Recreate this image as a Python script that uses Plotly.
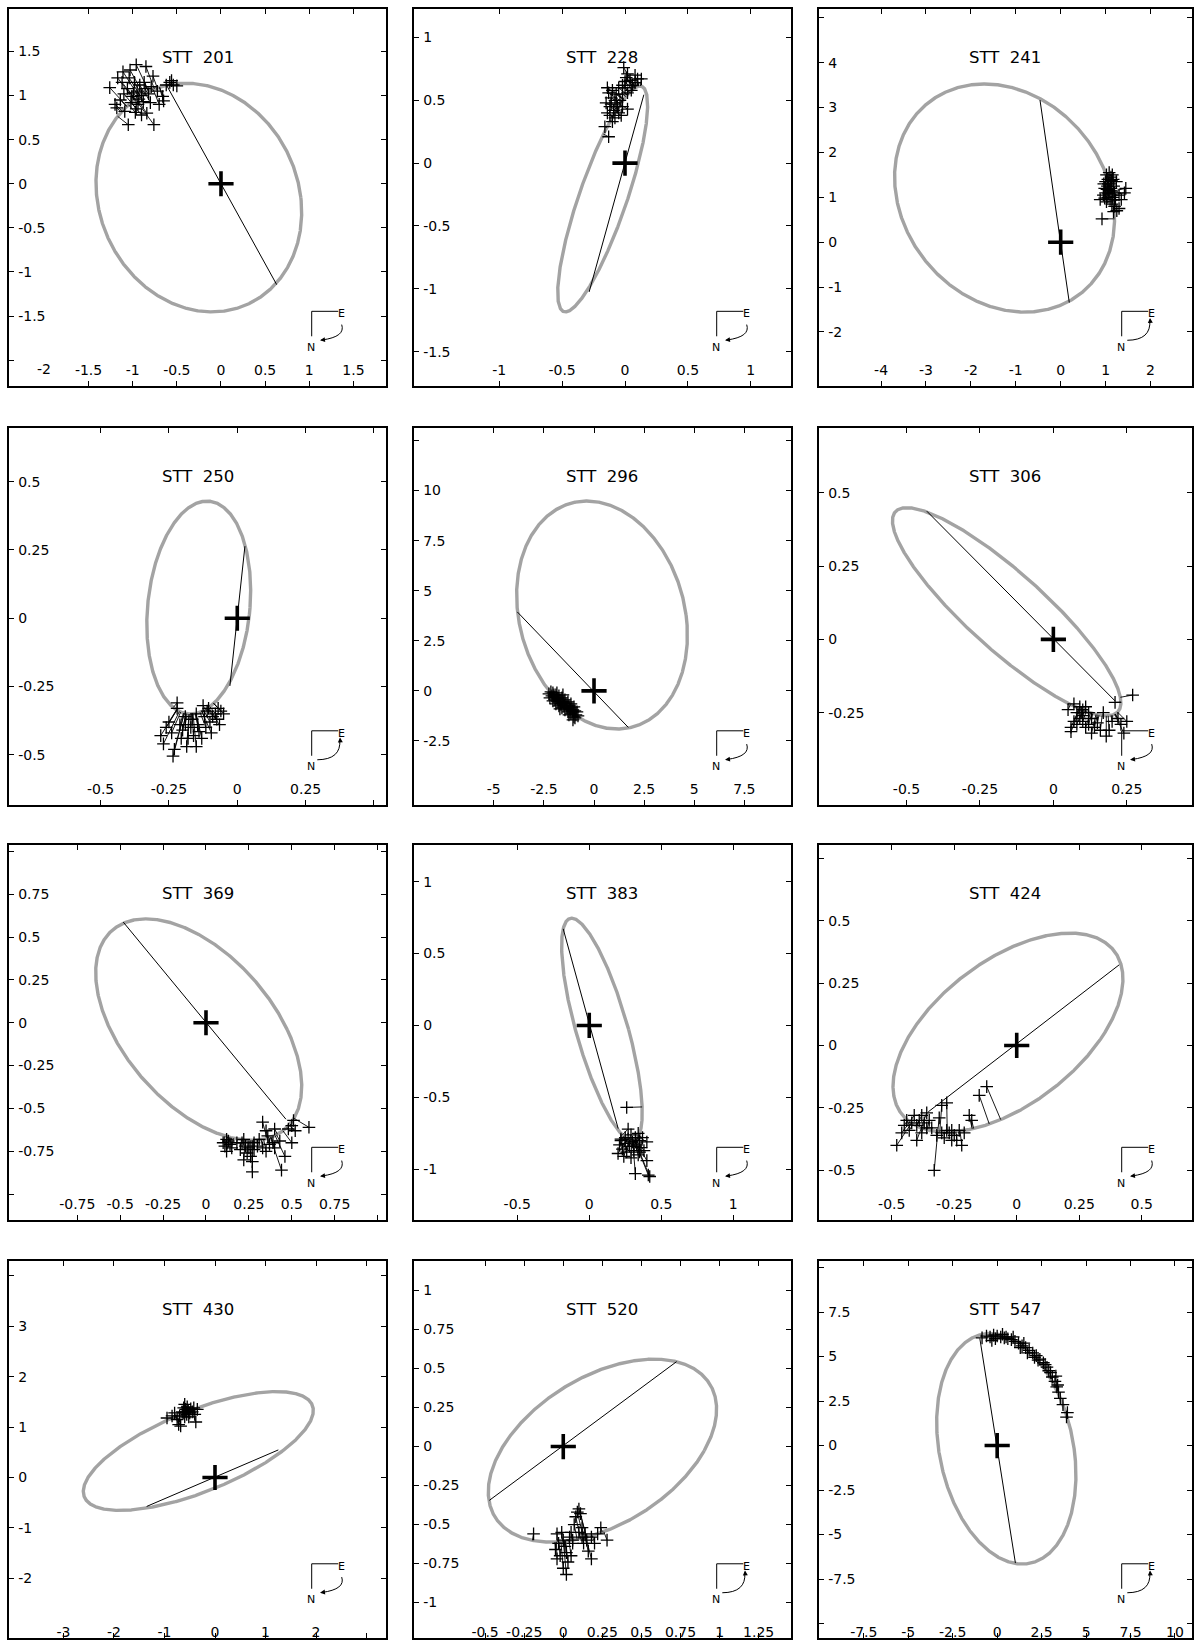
import numpy as np
import plotly.graph_objects as go

W, H = 1194, 1640

# ---------------- data ----------------
titles = ["STT  201", "STT  228", "STT  241", "STT  250", "STT  296", "STT  306",
          "STT  369", "STT  383", "STT  424", "STT  430", "STT  520", "STT  547"]

# apparent orbit extremes (data units, arcsec)
orbit_left = [-1.416, -0.535, -3.70, -0.331, -3.86, -0.548, -0.643, -0.192, -0.495, -2.608, -0.480, -3.404]
orbit_right = [0.914, 0.180, 1.20, 0.049, 4.66, 0.230, 0.558, 0.368, 0.425, 1.947, 0.981, 4.431]
orbit_top_y = [1.140, 0.614, 3.526, 0.429, 9.476, 0.449, 0.606, 0.746, 0.450, 1.703, 0.560, 6.30]
orbit_top_x = [-0.40, 0.119, -1.70, -0.111, -0.35, -0.499, -0.35, -0.122, 0.213, 1.221, 0.58, -0.376]
orbit_bottom_y = [-1.453, -1.184, -1.559, -0.351, -1.910, -0.261, -0.686, -0.80, -0.347, -0.653, -0.612, -6.657]

# line of nodes end points
node_x1 = [-0.615, 0.150, -0.461, 0.028, -3.825, -0.431, -0.482, -0.181, 0.410, -1.353, 0.725, -0.976]
node_y1 = [1.115, 0.545, 3.167, 0.264, 3.94, 0.437, 0.587, 0.672, 0.323, -0.574, 0.544, 6.018]
node_x2 = [0.631, -0.285, 0.192, -0.027, 1.711, 0.210, 0.466, 0.201, -0.354, 1.254, -0.473, 1.026]
node_y2 = [-1.144, -1.025, -1.345, -0.248, -1.826, -0.210, -0.563, -0.717, -0.266, 0.547, -0.345, -6.601]

# sense of motion shown in the compass ("N": arrow ends at N, "E": arrow ends at E)
motion = ["N", "N", "E", "E", "N", "N", "N", "N", "N", "N", "E", "E"]

obs_201 = [(-1.26, 1.09), (-1.17, 1.20), (-1.11, 1.27), (-1.03, 1.29), (-0.96, 1.35), (-0.85, 1.33),
           (-0.77, 1.22), (-0.79, 1.10), (-0.66, 0.99), (-0.65, 0.94), (-0.76, 0.67), (-1.05, 0.67),
           (-1.18, 0.86), (-1.09, 0.82), (-0.97, 0.81), (-0.84, 0.80), (-1.14, 0.95), (-1.01, 0.99),
           (-0.95, 1.05), (-0.90, 1.00), (-0.88, 0.93), (-0.92, 1.12), (-0.98, 1.15), (-1.06, 1.08),
           (-1.10, 1.02), (-0.86, 1.08), (-0.82, 1.02), (-0.80, 0.92), (-0.94, 0.90), (-1.02, 0.92),
           (-0.99, 1.03), (-0.93, 0.96), (-0.87, 1.15), (-1.12, 1.15), (-0.72, 1.05), (-0.70, 0.90),
           (-0.58, 1.15), (-0.54, 1.12), (-0.50, 1.11), (-0.56, 1.17), (-0.62, 1.12), (-1.20, 0.90),
           (-0.96, 0.85), (-0.90, 0.78), (-1.04, 1.20)]
obs_228 = [(-0.13, 0.21), (-0.16, 0.29), (-0.10, 0.33), (-0.08, 0.36), (-0.14, 0.40), (-0.12, 0.45),
           (-0.15, 0.48), (-0.11, 0.52), (-0.13, 0.56), (-0.10, 0.58), (-0.08, 0.50), (-0.06, 0.45),
           (-0.05, 0.40), (-0.03, 0.38), (-0.07, 0.55), (-0.04, 0.50), (-0.02, 0.45), (0.02, 0.43),
           (-0.09, 0.42), (-0.12, 0.38), (-0.05, 0.60), (-0.02, 0.62), (0.00, 0.65), (0.01, 0.68),
           (-0.01, 0.76), (0.02, 0.71), (0.04, 0.66), (0.06, 0.62), (0.08, 0.64), (0.10, 0.67),
           (0.08, 0.70), (0.13, 0.67), (0.05, 0.58), (0.02, 0.56), (-0.02, 0.55), (0.00, 0.60),
           (-0.14, 0.60), (-0.11, 0.47), (-0.07, 0.48)]
obs_241 = [(0.92, 0.52), (0.88, 0.95), (0.95, 1.05), (0.98, 1.20), (1.00, 1.35), (1.02, 1.50),
           (1.08, 1.55), (1.12, 1.45), (1.15, 1.50), (1.05, 1.40), (1.10, 1.30), (1.04, 1.25),
           (1.08, 1.15), (1.12, 1.20), (1.18, 1.25), (1.20, 1.10), (1.16, 1.00), (1.10, 0.95),
           (1.05, 1.00), (1.00, 1.10), (0.96, 1.30), (1.02, 0.90), (1.14, 0.85), (1.20, 0.80),
           (1.25, 0.70), (1.30, 0.75), (1.18, 0.68), (1.35, 0.95), (1.42, 1.10), (1.45, 1.20),
           (1.30, 1.05), (1.24, 1.35), (1.06, 1.30), (1.13, 1.38), (0.98, 0.98), (1.07, 1.08),
           (1.14, 1.12), (1.22, 0.95), (1.03, 1.18), (1.17, 1.40)]
obs_250 = [(-0.28, -0.43), (-0.27, -0.46), (-0.26, -0.40), (-0.25, -0.38), (-0.24, -0.42), (-0.235, -0.505),
           (-0.23, -0.48), (-0.22, -0.31), (-0.22, -0.33), (-0.21, -0.39), (-0.20, -0.41), (-0.19, -0.36),
           (-0.185, -0.47), (-0.18, -0.44), (-0.17, -0.40), (-0.165, -0.37), (-0.16, -0.43), (-0.15, -0.47),
           (-0.145, -0.39), (-0.14, -0.415), (-0.13, -0.44), (-0.125, -0.32), (-0.12, -0.36), (-0.115, -0.40),
           (-0.11, -0.34), (-0.10, -0.38), (-0.095, -0.42), (-0.09, -0.36), (-0.08, -0.35), (-0.075, -0.37),
           (-0.07, -0.33), (-0.06, -0.34), (-0.05, -0.35), (-0.065, -0.39), (-0.105, -0.33), (-0.15, -0.35),
           (-0.19, -0.39), (-0.205, -0.44)]
obs_296 = [(-2.25, -0.15), (-2.15, -0.05), (-2.10, -0.25), (-2.20, -0.35), (-2.05, -0.10), (-2.00, -0.30),
           (-1.95, -0.45), (-2.05, -0.50), (-1.90, -0.20), (-1.85, -0.35), (-1.80, -0.55), (-1.90, -0.65),
           (-1.75, -0.25), (-1.70, -0.45), (-1.65, -0.65), (-1.75, -0.75), (-1.60, -0.35), (-1.55, -0.55),
           (-1.50, -0.75), (-1.60, -0.85), (-1.45, -0.45), (-1.40, -0.65), (-1.35, -0.85), (-1.45, -0.95),
           (-1.30, -0.55), (-1.25, -0.75), (-1.20, -0.95), (-1.30, -1.05), (-1.15, -0.65), (-1.10, -0.85),
           (-1.05, -1.05), (-1.15, -1.15), (-1.00, -0.80), (-0.95, -1.00), (-0.90, -1.20), (-1.00, -1.30),
           (-0.85, -1.05), (-0.80, -1.25), (-1.05, -1.45), (-0.95, -1.35), (-1.85, -0.10), (-1.55, -0.20),
           (-1.70, -0.90), (-1.25, -1.20), (-2.00, -0.20), (-1.80, -0.40), (-1.65, -0.55), (-1.50, -0.60),
           (-1.35, -0.75), (-1.20, -0.85), (-1.05, -0.95)]
obs_306 = [(0.21, -0.215), (0.27, -0.19), (0.05, -0.24), (0.07, -0.22), (0.08, -0.25), (0.09, -0.23),
           (0.10, -0.24), (0.11, -0.23), (0.12, -0.25), (0.09, -0.27), (0.08, -0.29), (0.06, -0.30),
           (0.06, -0.315), (0.07, -0.28), (0.10, -0.28), (0.12, -0.29), (0.13, -0.27), (0.14, -0.30),
           (0.15, -0.285), (0.17, -0.25), (0.16, -0.31), (0.18, -0.33), (0.19, -0.31), (0.20, -0.28),
           (0.22, -0.27), (0.23, -0.29), (0.25, -0.28), (0.24, -0.32), (0.11, -0.30), (0.13, -0.32),
           (0.10, -0.26), (0.095, -0.25)]
obs_369 = [(0.10, -0.70), (0.11, -0.72), (0.12, -0.75), (0.13, -0.69), (0.14, -0.71), (0.15, -0.73),
           (0.12, -0.68), (0.20, -0.74), (0.21, -0.70), (0.22, -0.68), (0.23, -0.72), (0.24, -0.76),
           (0.22, -0.80), (0.25, -0.73), (0.26, -0.78), (0.27, -0.81), (0.27, -0.87), (0.28, -0.70),
           (0.30, -0.72), (0.31, -0.68), (0.33, -0.73), (0.33, -0.58), (0.35, -0.63), (0.36, -0.66),
           (0.35, -0.75), (0.37, -0.71), (0.39, -0.70), (0.40, -0.73), (0.40, -0.62), (0.43, -0.69),
           (0.44, -0.86), (0.46, -0.78), (0.48, -0.62), (0.50, -0.60), (0.51, -0.57), (0.52, -0.63),
           (0.50, -0.70), (0.60, -0.61), (0.18, -0.70), (0.28, -0.74)]
obs_383 = [(0.26, -0.57), (0.27, -0.72), (0.25, -0.78), (0.22, -0.80), (0.21, -0.83), (0.20, -0.89),
           (0.23, -0.86), (0.24, -0.91), (0.25, -0.82), (0.27, -0.79), (0.28, -0.84), (0.29, -0.76),
           (0.30, -0.81), (0.31, -0.87), (0.32, -0.78), (0.33, -0.83), (0.34, -0.75), (0.35, -0.80),
           (0.36, -0.85), (0.37, -0.78), (0.35, -0.88), (0.38, -0.87), (0.40, -0.81), (0.40, -0.94),
           (0.42, -1.05), (0.41, -1.04), (0.32, -1.03), (0.29, -0.92), (0.26, -0.88), (0.31, -0.84),
           (0.22, -0.79), (0.34, -0.90)]
obs_424 = [(-0.48, -0.40), (-0.46, -0.35), (-0.45, -0.32), (-0.44, -0.30), (-0.43, -0.34), (-0.42, -0.31),
           (-0.41, -0.28), (-0.40, -0.32), (-0.40, -0.38), (-0.39, -0.30), (-0.38, -0.28), (-0.37, -0.31),
           (-0.36, -0.27), (-0.35, -0.30), (-0.34, -0.33), (-0.33, -0.50), (-0.32, -0.36), (-0.31, -0.29),
           (-0.30, -0.24), (-0.30, -0.35), (-0.28, -0.23), (-0.28, -0.34), (-0.27, -0.35), (-0.26, -0.34),
           (-0.25, -0.36), (-0.24, -0.38), (-0.23, -0.34), (-0.22, -0.40), (-0.21, -0.35), (-0.19, -0.28),
           (-0.18, -0.30), (-0.15, -0.20), (-0.12, -0.165), (-0.26, -0.38), (-0.29, -0.37), (-0.36, -0.33),
           (-0.38, -0.35)]
obs_430 = [(-0.95, 1.18), (-0.85, 1.22), (-0.80, 1.28), (-0.75, 1.15), (-0.72, 1.05), (-0.68, 1.02),
           (-0.65, 1.30), (-0.62, 1.38), (-0.60, 1.45), (-0.58, 1.35), (-0.56, 1.25), (-0.55, 1.40),
           (-0.53, 1.32), (-0.52, 1.20), (-0.50, 1.28), (-0.48, 1.36), (-0.45, 1.30), (-0.42, 1.38),
           (-0.40, 1.25), (-0.38, 1.10), (-0.35, 1.35), (-0.60, 1.20), (-0.63, 1.28), (-0.57, 1.30),
           (-0.70, 1.22)]
obs_520 = [(-0.19, -0.56), (-0.04, -0.56), (-0.03, -0.62), (-0.05, -0.66), (-0.04, -0.72), (-0.02, -0.70),
           (0.00, -0.60), (0.01, -0.64), (0.02, -0.68), (0.03, -0.74), (0.04, -0.58), (0.05, -0.55),
           (0.05, -0.70), (0.06, -0.62), (0.07, -0.50), (0.08, -0.45), (0.09, -0.42), (0.10, -0.40),
           (0.11, -0.43), (0.10, -0.55), (0.12, -0.58), (0.12, -0.52), (0.13, -0.62), (0.14, -0.56),
           (0.15, -0.60), (0.16, -0.67), (0.18, -0.72), (0.18, -0.58), (0.20, -0.62), (0.22, -0.56),
           (0.24, -0.52), (0.28, -0.60), (0.02, -0.82), (0.00, -0.78), (0.06, -0.60), (-0.01, -0.55)]
obs_547 = [(-0.85, 6.05), (-0.6, 6.15), (-0.4, 6.1), (-0.2, 6.2), (0.0, 6.15), (0.2, 6.1), (0.4, 6.05),
           (0.6, 6.0), (0.8, 5.95), (1.0, 5.85), (1.2, 5.75), (1.4, 5.6), (1.6, 5.5), (1.8, 5.35),
           (2.0, 5.2), (2.2, 5.05), (2.4, 4.85), (2.6, 4.65), (2.8, 4.4), (3.0, 4.1), (3.1, 3.85),
           (3.25, 3.6), (3.35, 3.3), (3.45, 3.0), (3.55, 2.65), (3.7, 2.3), (3.95, 1.85), (3.9, 1.6),
           (-0.3, 5.9), (0.3, 6.25), (0.9, 6.1), (1.3, 5.5), (1.7, 5.2), (2.3, 4.8), (2.7, 4.55),
           (2.9, 4.2), (3.3, 3.9), (3.4, 3.4), (1.5, 5.75), (2.1, 4.95), (0.5, 6.1), (-0.1, 6.0)]
observations = [obs_201, obs_228, obs_241, obs_250, obs_296, obs_306,
                obs_369, obs_383, obs_424, obs_430, obs_520, obs_547]

# axis ranges and ticks
x_ranges = [[-2.401, 1.869], [-1.677, 1.317], [-5.383, 2.918], [-0.835, 0.544], [-8.978, 9.810], [-0.798, 0.471],
            [-1.148, 1.049], [-1.217, 1.399], [-0.791, 0.700], [-4.079, 3.386], [-0.955, 1.455], [-10.02, 10.94]]
y_ranges = [[-2.288, 1.982], [-1.770, 1.227], [-3.194, 5.196], [-0.683, 0.695], [-5.686, 13.10], [-0.564, 0.719],
            [-1.152, 1.037], [-1.354, 1.255], [-0.700, 0.803], [-3.182, 4.283], [-1.227, 1.186], [-10.81, 10.34]]
x_ticks = [[-2, -1.5, -1, -0.5, 0, 0.5, 1, 1.5], [-1.5, -1, -0.5, 0, 0.5, 1], [-5, -4, -3, -2, -1, 0, 1, 2],
           [-0.75, -0.5, -0.25, 0, 0.25, 0.5], [-7.5, -5, -2.5, 0, 2.5, 5, 7.5], [-0.75, -0.5, -0.25, 0, 0.25],
           [-1, -0.75, -0.5, -0.25, 0, 0.25, 0.5, 0.75, 1], [-1, -0.5, 0, 0.5, 1], [-0.75, -0.5, -0.25, 0, 0.25, 0.5],
           [-4, -3, -2, -1, 0, 1, 2, 3], [-0.75, -0.5, -0.25, 0, 0.25, 0.5, 0.75, 1, 1.25],
           [-10, -7.5, -5, -2.5, 0, 2.5, 5, 7.5, 10]]
x_unlabeled = [[], [-1.5], [-5], [-0.75, 0.5], [-7.5], [-0.75], [-1, 1], [-1], [-0.75], [-4, 3], [-0.75], [-10]]
y_ticks = [[-2, -1.5, -1, -0.5, 0, 0.5, 1, 1.5], [-1.5, -1, -0.5, 0, 0.5, 1], [-3, -2, -1, 0, 1, 2, 3, 4, 5],
           [-0.5, -0.25, 0, 0.25, 0.5], [-5, -2.5, 0, 2.5, 5, 7.5, 10, 12.5], [-0.5, -0.25, 0, 0.25, 0.5],
           [-1, -0.75, -0.5, -0.25, 0, 0.25, 0.5, 0.75, 1], [-1, -0.5, 0, 0.5, 1], [-0.5, -0.25, 0, 0.25, 0.5, 0.75],
           [-3, -2, -1, 0, 1, 2, 3, 4], [-1, -0.75, -0.5, -0.25, 0, 0.25, 0.5, 0.75, 1],
           [-10, -7.5, -5, -2.5, 0, 2.5, 5, 7.5, 10]]
y_unlabeled = [[-2], [], [-3, 5], [], [-5, 12.5], [-0.5], [-1, 1], [], [0.75], [-3, 4], [], [-10, 10]]

# ---------------- layout geometry (pixels) ----------------
col_px = [(9, 386), (414, 790.7), (819, 1191.7)]
row_px = [(9, 386), (429, 805.7), (846, 1221.7), (1263, 1640)]
x_label_standoff = [3, 3, 3, -7]
x_label_centre = [360, 360, 360, 368]   # px below box top, for labels drawn as annotations

FONT = "DejaVu Sans"
TICKFONT = dict(family=FONT, size=14, color="black")
axis_common = dict(showline=True, linecolor="black", linewidth=2, mirror="ticks",
                   ticks="inside", ticklen=5, tickwidth=1, tickcolor="black",
                   ticklabelposition="inside", showgrid=False, zeroline=False,
                   tickfont=TICKFONT, tickmode="array", fixedrange=True)


def lab(v, unl):
    return "" if v in unl else f"{v:g}"


fig = go.Figure()
t = np.linspace(0, 2 * np.pi, 1441)
shapes = []
annotations = []

for i in range(12):
    n = i + 1
    r, c = divmod(i, 3)
    xs = "x" if n == 1 else f"x{n}"
    ys = "y" if n == 1 else f"y{n}"
    x0, x1 = col_px[c]
    y0, y1 = row_px[r]

    # orbit from its extremes
    cx = (orbit_left[i] + orbit_right[i]) / 2
    w = (orbit_right[i] - orbit_left[i]) / 2
    cy = (orbit_top_y[i] + orbit_bottom_y[i]) / 2
    h = (orbit_top_y[i] - orbit_bottom_y[i]) / 2
    dx = orbit_top_x[i] - cx
    ex = cx + dx * np.sin(t) + np.sqrt(w * w - dx * dx) * np.cos(t)
    ey = cy + h * np.sin(t)

    fig.add_trace(go.Scatter(x=ex, y=ey, mode="lines", line=dict(color="#a3a3a3", width=3.4),
                             xaxis=xs, yaxis=ys, hoverinfo="skip"))
    fig.add_trace(go.Scatter(x=[node_x1[i], node_x2[i]], y=[node_y1[i], node_y2[i]], mode="lines",
                             line=dict(color="black", width=1), xaxis=xs, yaxis=ys, hoverinfo="skip"))

    ox = [p[0] for p in observations[i]]
    oy = [p[1] for p in observations[i]]
    lx, ly = [], []
    for px_, py_ in observations[i]:
        k = int(np.argmin((ex - px_) ** 2 + (ey - py_) ** 2))
        lx += [px_, float(ex[k]), None]
        ly += [py_, float(ey[k]), None]
    fig.add_trace(go.Scatter(x=lx, y=ly, mode="lines", line=dict(color="black", width=0.9),
                             xaxis=xs, yaxis=ys, hoverinfo="skip"))
    fig.add_trace(go.Scatter(x=ox, y=oy, mode="markers",
                             marker=dict(symbol="cross-thin", size=9, color="black",
                                         line=dict(color="black", width=1.3)),
                             xaxis=xs, yaxis=ys))
    fig.add_trace(go.Scatter(x=[0], y=[0], mode="markers",
                             marker=dict(symbol="cross-thin", size=18, color="black",
                                         line=dict(color="black", width=3.6)),
                             xaxis=xs, yaxis=ys))

    # x tick labels: those close to the left edge are written as annotations,
    # because plotly hides inside labels that fall in the y-label band
    xr = x_ranges[i]
    xtext = []
    for v in x_ticks[i]:
        s = lab(v, x_unlabeled[i])
        pxv = (v - xr[0]) / (xr[1] - xr[0]) * (x1 - x0)
        if s and pxv < 42:
            annotations.append(dict(text=s, x=v, y=1 - x_label_centre[r] / (y1 - y0),
                                    xref=xs, yref=f"{ys} domain", showarrow=False,
                                    xanchor="center", yanchor="middle", font=TICKFONT))
            s = ""
        xtext.append(s)

    xa = dict(domain=[x0 / W, x1 / W], range=xr, anchor=ys,
              tickvals=x_ticks[i], ticktext=xtext,
              ticklabelstandoff=x_label_standoff[r], **axis_common)
    ya = dict(domain=[1 - y1 / H, 1 - y0 / H], range=y_ranges[i], anchor=xs,
              tickvals=y_ticks[i], ticktext=[lab(v, y_unlabeled[i]) for v in y_ticks[i]],
              ticklabelstandoff=4, **axis_common)
    fig.update_layout(**{("xaxis" if n == 1 else f"xaxis{n}"): xa,
                         ("yaxis" if n == 1 else f"yaxis{n}"): ya})

    # title
    annotations.append(dict(text=titles[i], x=(x0 + x1) / 2 / W, y=1 - (y0 + 48.5) / H,
                            xref="paper", yref="paper", showarrow=False,
                            xanchor="center", yanchor="middle",
                            font=dict(family=FONT, size=16.5, color="black")))

    # compass (pixel offsets from the box's top-left corner)
    def P(px, py):
        return (x0 + px) / W, 1 - (y0 + py) / H

    cxp, cyp = P(302.7, 302.7)
    ex_, _ = P(329.3, 302.7)
    _, ny_ = P(302.7, 327.7)
    shapes.append(dict(type="line", xref="paper", yref="paper", x0=cxp, y0=cyp, x1=ex_, y1=cyp,
                       line=dict(color="black", width=1)))
    shapes.append(dict(type="line", xref="paper", yref="paper", x0=cxp, y0=cyp, x1=cxp, y1=ny_,
                       line=dict(color="black", width=1)))
    ax_, ay_ = P(332, 305)
    annotations.append(dict(text="E", x=ax_, y=ay_, xref="paper", yref="paper", showarrow=False,
                            xanchor="center", yanchor="middle", font=dict(family=FONT, size=11, color="black")))
    ax_, ay_ = P(302, 338.5)
    annotations.append(dict(text="N", x=ax_, y=ay_, xref="paper", yref="paper", showarrow=False,
                            xanchor="center", yanchor="middle", font=dict(family=FONT, size=11, color="black")))
    if motion[i] == "N":
        p0, pc, p2 = P(332.7, 316), P(336.75, 328.15), P(313, 331.4)
        head, tail = P(311, 331.7), (6, -0.8)
    else:
        p0, pc, p2 = P(308.3, 331.7), P(332.35, 331.5), P(330.8, 311.5)
        head, tail = P(331, 309.3), (0.4, 6)
    shapes.append(dict(type="path", xref="paper", yref="paper",
                       path=f"M {p0[0]},{p0[1]} Q {pc[0]},{pc[1]} {p2[0]},{p2[1]}",
                       line=dict(color="black", width=1)))
    annotations.append(dict(text="", x=head[0], y=head[1], xref="paper", yref="paper",
                            showarrow=True, arrowhead=2, arrowsize=1, arrowwidth=1, arrowcolor="black",
                            ax=tail[0], ay=tail[1], axref="pixel", ayref="pixel"))

fig.update_layout(width=W, height=H, margin=dict(l=0, r=0, t=0, b=0),
                  paper_bgcolor="white", plot_bgcolor="white", showlegend=False,
                  shapes=shapes, annotations=annotations)

fig.write_html("out.html", config={"displayModeBar": False},
               post_script="document.body.style.margin='0px';document.body.style.overflow='hidden';")
